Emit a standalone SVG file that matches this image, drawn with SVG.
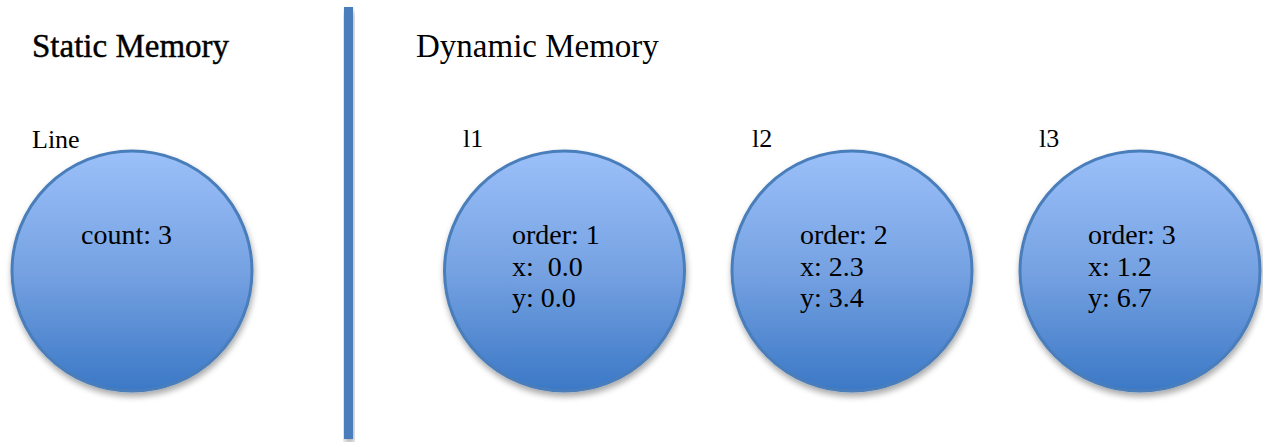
<svg xmlns="http://www.w3.org/2000/svg" width="1263" height="442" viewBox="0 0 1263 442">
  <style>
    text { font-family: "Liberation Serif", "Times New Roman", serif; fill: #000; }
    .title { font-size: 33px; }
    .title-strong { font-size: 33px; stroke: #000; stroke-width: 0.45px; }
    .label { font-size: 26px; }
    .field { font-size: 28px; }
    .obj { fill: url(#objFill); stroke: #4a7ebb; stroke-width: 3; filter: url(#softShadow); }
    .divider { fill: #4a7ebb; filter: url(#softShadow); }
  </style>
  <defs>
    <linearGradient id="objFill" x1="0" y1="0" x2="0" y2="1">
      <stop offset="0" stop-color="#9bc0f9"/>
      <stop offset="0.5" stop-color="#76a2e2"/>
      <stop offset="1" stop-color="#3b78c6"/>
    </linearGradient>
    <filter id="softShadow" x="-20%" y="-20%" width="140%" height="140%">
      <feGaussianBlur in="SourceAlpha" stdDeviation="3"/>
      <feOffset dx="1" dy="4" result="blur"/>
      <feComponentTransfer><feFuncA type="linear" slope="0.35"/></feComponentTransfer>
      <feMerge><feMergeNode/><feMergeNode in="SourceGraphic"/></feMerge>
    </filter>
  </defs>

  <rect width="1263" height="442" fill="#ffffff"/>

  <!-- section headings and divider -->
  <g id="static-heading">
    <text class="title-strong" x="32" y="57">Static Memory</text>
  </g>
  <g id="divider">
    <rect class="divider" x="344" y="7" width="9" height="432"/>
  </g>
  <g id="dynamic-heading">
    <text class="title" x="416" y="57">Dynamic Memory</text>
  </g>

  <!-- static object -->
  <g id="line-object">
    <text class="label" x="32" y="148">Line</text>
    <circle class="obj" cx="132" cy="271" r="120"/>
    <text class="field" x="81" y="244">count: 3</text>
  </g>

  <!-- heap objects -->
  <g id="l1-object">
    <text class="label" x="463" y="147">l1</text>
    <circle class="obj" cx="564.5" cy="271" r="120"/>
    <text class="field" x="512" y="244" xml:space="preserve">order: 1</text>
    <text class="field" x="512" y="276" xml:space="preserve">x:  0.0</text>
    <text class="field" x="512" y="307">y: 0.0</text>
  </g>

  <g id="l2-object">
    <text class="label" x="752" y="147">l2</text>
    <circle class="obj" cx="852" cy="271" r="120"/>
    <text class="field" x="800" y="244">order: 2</text>
    <text class="field" x="800" y="276">x: 2.3</text>
    <text class="field" x="800" y="307">y: 3.4</text>
  </g>

  <g id="l3-object">
    <text class="label" x="1039" y="147">l3</text>
    <circle class="obj" cx="1140" cy="271" r="120"/>
    <text class="field" x="1088" y="244">order: 3</text>
    <text class="field" x="1088" y="276">x: 1.2</text>
    <text class="field" x="1088" y="307">y: 6.7</text>
  </g>

  <g id="connectors"></g>
</svg>
